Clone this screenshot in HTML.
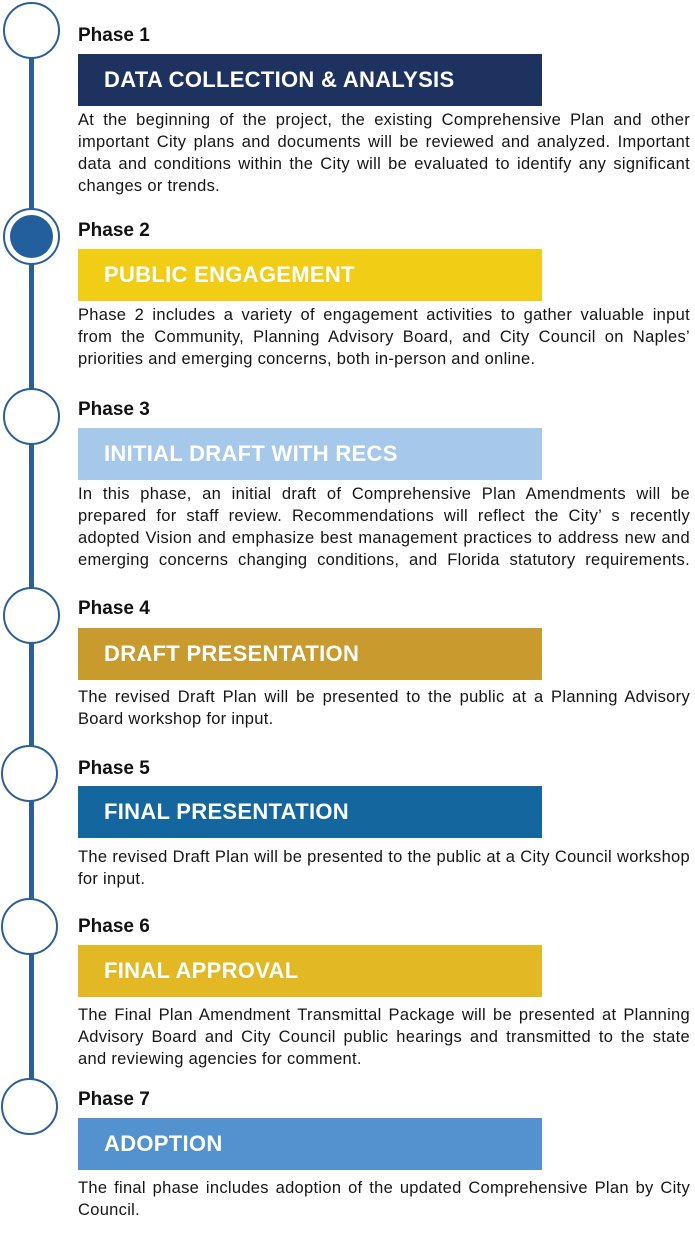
<!DOCTYPE html>
<html><head><meta charset="utf-8"><style>
body{margin:0;width:695px;height:1254px;background:#fff;position:relative;overflow:hidden;font-family:"Liberation Sans",Arial,sans-serif;color:#1a1a1a}
.line{position:absolute;left:29px;width:5px;background:#2a5f9a}
.c{position:absolute;width:53px;height:53px;border:2.5px solid #2a5f9a;border-radius:50%;background:#fff}
.ph{position:absolute;left:78px;font-weight:bold;font-size:19px;color:#111}
.bar{position:absolute;left:78px;width:464px;height:52px;color:#fff;font-weight:bold;font-size:22px;line-height:52px;padding-left:26px;box-sizing:border-box;letter-spacing:0.3px}
.t{position:absolute;left:78px;width:612px;font-size:16.5px;letter-spacing:0.3px;line-height:22px;color:#151515}
.t div{white-space:nowrap}
.t .j{text-align:justify;text-align-last:justify;white-space:normal;height:22px;overflow:hidden}
</style></head><body>
<div class="line" style="top:56px;height:1024px"></div>

<div class="c" style="left:3px;top:2px"></div>
<div class="c" style="left:3px;top:208px"></div>
<div style="position:absolute;left:10px;top:215px;width:43px;height:43px;border-radius:50%;background:#235f9c"></div>
<div class="c" style="left:3px;top:388px"></div>
<div class="c" style="left:3px;top:587px"></div>
<div class="c" style="left:1px;top:745px"></div>
<div class="c" style="left:1px;top:898px"></div>
<div class="c" style="left:1px;top:1078px"></div>

<div class="ph" style="top:25px">Phase 1</div>
<div class="bar" style="top:54px;background:#1e3260">DATA COLLECTION &amp; ANALYSIS</div>
<div class="t" style="top:109px"><div class="j">At the beginning of the project, the existing Comprehensive Plan and other</div><div class="j">important City plans and documents will be reviewed and analyzed. Important</div><div class="j">data and conditions within the City will be evaluated to identify any significant</div><div>changes or trends.</div></div>

<div class="ph" style="top:220px">Phase 2</div>
<div class="bar" style="top:249px;background:#f2cd16">PUBLIC ENGAGEMENT</div>
<div class="t" style="top:304px"><div class="j">Phase 2 includes a variety of engagement activities to gather valuable input</div><div class="j">from the Community, Planning Advisory Board, and City Council on Naples’</div><div>priorities and emerging concerns, both in-person and online.</div></div>

<div class="ph" style="top:399px">Phase 3</div>
<div class="bar" style="top:428px;background:#a6c8ea">INITIAL DRAFT WITH RECS</div>
<div class="t" style="top:483px"><div class="j">In this phase, an initial draft of Comprehensive Plan Amendments will be</div><div class="j">prepared for staff review. Recommendations will reflect the City’ s recently</div><div class="j">adopted Vision and emphasize best management practices to address new and</div><div class="j">emerging concerns changing conditions, and Florida statutory requirements.</div></div>

<div class="ph" style="top:598px">Phase 4</div>
<div class="bar" style="top:628px;background:#c99a2e">DRAFT PRESENTATION</div>
<div class="t" style="top:686px"><div class="j">The revised Draft Plan will be presented to the public at a Planning Advisory</div><div>Board workshop for input.</div></div>

<div class="ph" style="top:758px">Phase 5</div>
<div class="bar" style="top:786px;background:#13679e">FINAL PRESENTATION</div>
<div class="t" style="top:846px"><div class="j">The revised Draft Plan will be presented to the public at a City Council workshop</div><div>for input.</div></div>

<div class="ph" style="top:916px">Phase 6</div>
<div class="bar" style="top:945px;background:#e2b825">FINAL APPROVAL</div>
<div class="t" style="top:1004px"><div class="j">The Final Plan Amendment Transmittal Package will be presented at Planning</div><div class="j">Advisory Board and City Council public hearings and transmitted to the state</div><div>and reviewing agencies for comment.</div></div>

<div class="ph" style="top:1089px">Phase 7</div>
<div class="bar" style="top:1118px;background:#5491cf">ADOPTION</div>
<div class="t" style="top:1177px"><div class="j">The final phase includes adoption of the updated Comprehensive Plan by City</div><div>Council.</div></div>
</body></html>
